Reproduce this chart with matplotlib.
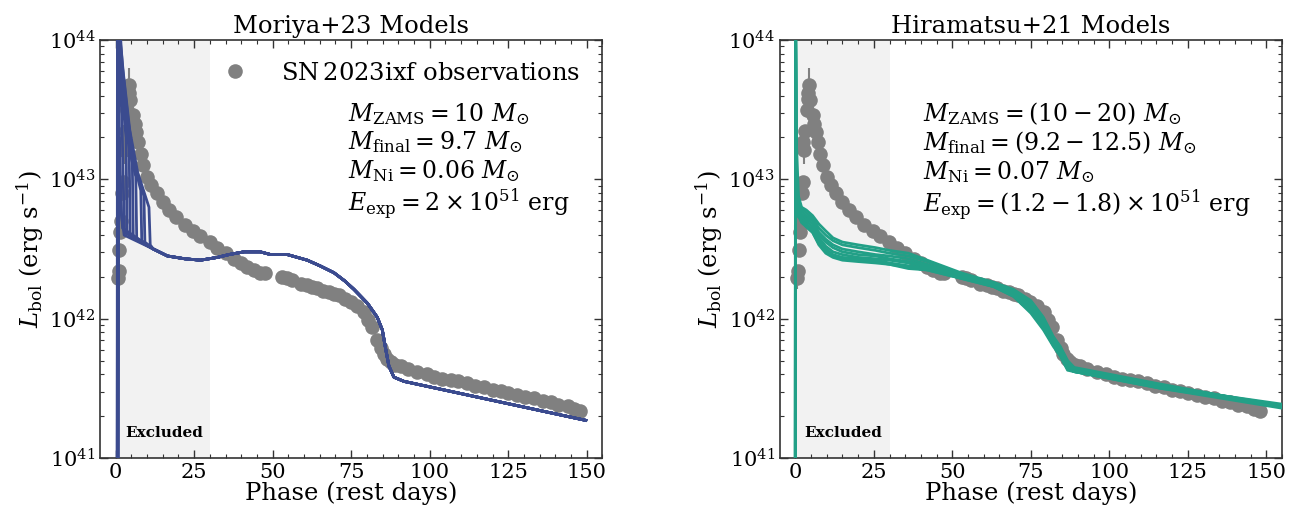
import numpy as np
import matplotlib
matplotlib.use("Agg")
import matplotlib.pyplot as plt

plt.rcParams['font.family'] = 'DejaVu Serif'
plt.rcParams['mathtext.fontset'] = 'dejavuserif'

# --- SN 2023ixf bolometric light curve (phase in rest days, log10 L) ---
obs_phase = [0.7, 1.0, 1.2, 1.5, 1.7, 2.0, 2.3, 2.5, 2.8, 3.2, 3.6, 3.9, 4.2, 4.4,
             4.6, 5.5, 6.0, 6.5, 7.1, 8.0, 8.7, 10.0, 11.3, 13.0, 15.0, 17.0, 19.3,
             22.0, 24.6, 27.0, 29.9, 32.4, 35.0, 37.7, 40.0, 41.9, 44.0, 46.0, 47.5,
             53.0, 54.5, 56.0, 58.9, 61.0, 62.5, 64.2, 66.0, 68.0, 69.5, 71.0, 73.0,
             74.8, 77.0, 79.1, 80.5, 81.7, 83.3, 84.5, 85.4, 86.5, 87.6, 89.0, 90.8,
             93.0, 96.1, 99.0, 101.4, 104.0, 106.7, 109.0, 112.0, 114.5, 117.3, 120.0,
             122.6, 125.0, 127.9, 130.5, 133.2, 136.0, 138.5, 141.0, 143.9, 146.0, 148.0]
obs_logL = [42.29, 42.34, 42.49, 42.62, 42.70, 42.90, 42.98, 43.27, 43.21, 43.35, 43.50, 43.58, 43.62, 43.68,
            43.57, 43.46, 43.40, 43.34, 43.27, 43.18, 43.10, 43.02, 42.96, 42.90, 42.84, 42.78, 42.73,
            42.67, 42.63, 42.59, 42.55, 42.51, 42.47, 42.43, 42.40, 42.37, 42.35, 42.33, 42.33,
            42.30, 42.29, 42.28, 42.25, 42.24, 42.23, 42.22, 42.20, 42.19, 42.18, 42.17, 42.14,
            42.12, 42.09, 42.05, 41.99, 41.94, 41.85, 41.79, 41.75, 41.71, 41.69, 41.67, 41.66,
            41.64, 41.62, 41.60, 41.58, 41.57, 41.56, 41.55, 41.54, 41.52, 41.51, 41.49,
            41.48, 41.47, 41.45, 41.44, 41.43, 41.41, 41.40, 41.38, 41.37, 41.35, 41.34]

# points with visible error bars (dex below / above)
err_phase = [0.7, 2.8, 4.4]
err_logL = [42.29, 43.21, 43.68]
err_lo_dex = [0.08, 0.10, 0.10]
err_hi_dex = [0.05, 0.10, 0.12]

# --- Moriya+23 models: early (CSM) part differs, late part shared ---
moriya_early_t = [
    [0.45, 0.55, 0.9, 1.3, 1.8, 2.7],
    [0.5, 0.6, 1.2, 2.0, 2.4, 2.8],
    [0.5, 0.65, 1.5, 2.5, 3.3, 3.6],
    [0.55, 0.7, 1.5, 2.5, 3.5, 4.3, 4.6],
    [0.6, 0.8, 1.6, 2.6, 3.6, 5.3, 5.6],
    [0.6, 0.8, 2.0, 3.5, 5.0, 6.4, 6.7],
    [0.65, 0.9, 2.0, 3.5, 5.5, 8.0, 8.3],
    [0.7, 1.0, 2.2, 4.0, 6.0, 9.0, 9.3],
    [0.7, 1.0, 2.5, 4.5, 7.0, 10.6, 11.0],
    [0.5, 0.6, 0.9, 1.4, 2.2],
]
moriya_early_logL = [
    [40.0, 43.9, 43.7, 43.2, 42.75, 42.60],
    [40.0, 44.1, 43.8, 43.45, 43.0, 42.62],
    [40.0, 44.2, 43.8, 43.5, 43.3, 42.62],
    [40.0, 44.1, 43.85, 43.55, 43.35, 43.22, 42.60],
    [40.0, 44.2, 43.9, 43.6, 43.4, 43.12, 42.58],
    [40.0, 44.0, 43.7, 43.4, 43.15, 43.02, 42.57],
    [40.0, 44.1, 43.75, 43.45, 43.15, 42.92, 42.56],
    [40.0, 44.2, 43.8, 43.42, 43.12, 42.88, 42.55],
    [40.0, 44.1, 43.75, 43.35, 43.05, 42.80, 42.53],
    [40.0, 43.7, 43.3, 42.9, 42.65],
]
moriya_late_t = [12, 16.5, 22, 27, 32.4, 36, 40.9, 46, 49.4, 54.7, 61, 65, 69.5, 73,
                 75.9, 80.2, 83.3, 84.9, 86, 87, 88.6, 91.8, 149.7]
moriya_late_logL = [42.50, 42.45, 42.43, 42.42, 42.44, 42.46, 42.48, 42.48, 42.46, 42.46,
                    42.42, 42.38, 42.33, 42.27, 42.21, 42.11, 42.01, 41.92, 41.78, 41.66,
                    41.58, 41.55, 41.27]

# --- Hiramatsu+21 models on a shared phase grid ---
hira_t = [0.0, 0.05, 0.3, 1.0, 2.0, 3.5, 5.5, 7.5, 9.7, 12, 15, 20, 25.6, 30, 36, 42,
          52.7, 63.2, 69.5, 75, 79, 82.2, 84.4, 86.7, 88.8, 116.4, 157]
hira_logL = [
    [40.0, 44.6, 43.30, 42.88, 42.80, 42.78, 42.74, 42.68, 42.63, 42.58, 42.55, 42.53, 42.51, 42.49, 42.47, 42.42,
     42.33, 42.26, 42.21, 42.13, 42.01, 41.87, 41.80, 41.70, 41.65, 41.53, 41.36],
    [40.0, 44.5, 43.05, 42.85, 42.79, 42.76, 42.72, 42.65, 42.60, 42.56, 42.53, 42.51, 42.49, 42.47, 42.45, 42.41,
     42.32, 42.26, 42.20, 42.12, 42.00, 41.86, 41.79, 41.69, 41.64, 41.52, 41.37],
    [40.0, 44.5, 42.95, 42.83, 42.77, 42.74, 42.70, 42.62, 42.57, 42.53, 42.50, 42.48, 42.46, 42.45, 42.43, 42.39,
     42.31, 42.25, 42.19, 42.10, 41.98, 41.85, 41.77, 41.67, 41.63, 41.52, 41.36],
    [40.0, 44.4, 42.90, 42.80, 42.75, 42.72, 42.68, 42.60, 42.55, 42.51, 42.48, 42.46, 42.45, 42.43, 42.41, 42.38,
     42.31, 42.24, 42.18, 42.08, 41.96, 41.83, 41.76, 41.66, 41.63, 41.51, 41.37],
    [40.0, 44.4, 42.88, 42.78, 42.73, 42.70, 42.66, 42.58, 42.52, 42.48, 42.46, 42.44, 42.43, 42.42, 42.40, 42.37,
     42.30, 42.24, 42.17, 42.07, 41.95, 41.82, 41.75, 41.65, 41.62, 41.51, 41.38],
    [40.0, 44.5, 42.85, 42.76, 42.71, 42.68, 42.64, 42.56, 42.50, 42.46, 42.44, 42.43, 42.42, 42.40, 42.38, 42.36,
     42.30, 42.23, 42.16, 42.05, 41.93, 41.81, 41.74, 41.64, 41.62, 41.51, 41.36],
    [40.0, 44.3, 42.82, 42.74, 42.69, 42.66, 42.62, 42.54, 42.48, 42.45, 42.43, 42.42, 42.41, 42.39, 42.37, 42.35,
     42.29, 42.23, 42.16, 42.04, 41.92, 41.80, 41.73, 41.63, 41.62, 41.50, 41.35],
    [40.0, 44.3, 42.80, 42.73, 42.71, 42.66, 42.62, 42.53, 42.47, 42.44, 42.42, 42.41, 42.40, 42.39, 42.36, 42.35,
     42.29, 42.23, 42.17, 42.06, 41.94, 41.81, 41.74, 41.64, 41.62, 41.50, 41.37],
]

moriya_color = '#3b4b8f'
hira_color = '#22a087'
obs_color = '#808080'

moriya_text = ('$M_{\\rm ZAMS} = 10\\ M_{\\odot}$\n'
               '$M_{\\rm final} = 9.7\\ M_{\\odot}$\n'
               '$M_{\\rm Ni} = 0.06\\ M_{\\odot}$\n'
               '$E_{\\rm exp} = 2 \\times 10^{51}$ erg')
hira_text = ('$M_{\\rm ZAMS} = (10-20)\\ M_{\\odot}$\n'
             '$M_{\\rm final} = (9.2-12.5)\\ M_{\\odot}$\n'
             '$M_{\\rm Ni} = 0.07\\ M_{\\odot}$\n'
             '$E_{\\rm exp} = (1.2-1.8) \\times 10^{51}$ erg')


def style_axis(ax, title):
    ax.set_yscale('log')
    ax.set_xlim(-5, 155)
    ax.set_ylim(1e41, 1e44)
    ax.axvspan(0, 30, color='#f2f2f2', zorder=0, lw=0)
    ax.text(3, 1.5e41, 'Excluded', fontsize=11, fontweight='bold', ha='left', va='center')
    ax.set_xticks([0, 25, 50, 75, 100, 125, 150])
    ax.set_xticks(np.arange(0, 156, 5), minor=True)
    ax.tick_params(which='both', direction='in', top=True, right=True, labelsize=15, colors='#333333',
                   labelcolor='black')
    ax.tick_params(which='major', length=6, width=1.0)
    ax.tick_params(which='minor', length=3, width=0.8)
    for sp in ax.spines.values():
        sp.set_color('#333333')
        sp.set_linewidth(1.2)
    ax.set_xlabel('Phase (rest days)', fontsize=17.5, labelpad=0)
    ax.set_ylabel(r'$L_{\rm bol}$ (erg s$^{-1}$)', fontsize=17.5, labelpad=2)
    ax.set_title(title, fontsize=17.5, pad=5)


def plot_obs(ax):
    L = 10 ** np.array(obs_logL)
    ax.plot(obs_phase, L, 'o', color=obs_color, ms=10.5, mec='none', zorder=2,
            label='SN$\\,$2023ixf observations')
    eL = 10 ** np.array(err_logL)
    lo = eL - 10 ** (np.array(err_logL) - np.array(err_lo_dex))
    hi = 10 ** (np.array(err_logL) + np.array(err_hi_dex)) - eL
    ax.errorbar(err_phase, eL, yerr=[lo, hi], fmt='none', ecolor=obs_color, elinewidth=1.5, zorder=2)


fig, (ax1, ax2) = plt.subplots(1, 2, figsize=(12.95, 5.14), dpi=100)
fig.subplots_adjust(left=0.0772, right=0.99, bottom=0.109, top=0.922, wspace=0.3526)

# Left: Moriya+23
plot_obs(ax1)
for t_e, l_e in zip(moriya_early_t, moriya_early_logL):
    t = t_e + moriya_late_t
    lum = 10 ** np.array(l_e + moriya_late_logL)
    ax1.plot(t, lum, color=moriya_color, lw=2, zorder=3)
style_axis(ax1, 'Moriya+23 Models')
ax1.legend(loc='upper right', frameon=False, fontsize=17.5, handletextpad=0.9, borderaxespad=0.5)
ax1.text(0.494, 0.71, moriya_text, transform=ax1.transAxes, fontsize=17, ha='left', va='center',
         linespacing=1.12)

# Right: Hiramatsu+21
plot_obs(ax2)
for l_m in hira_logL:
    ax2.plot(hira_t, 10 ** np.array(l_m), color=hira_color, lw=2, zorder=3)
style_axis(ax2, 'Hiramatsu+21 Models')
ax2.text(0.286, 0.71, hira_text, transform=ax2.transAxes, fontsize=17, ha='left', va='center',
         linespacing=1.12)

plt.savefig('out.png', dpi=100)
plt.close()
